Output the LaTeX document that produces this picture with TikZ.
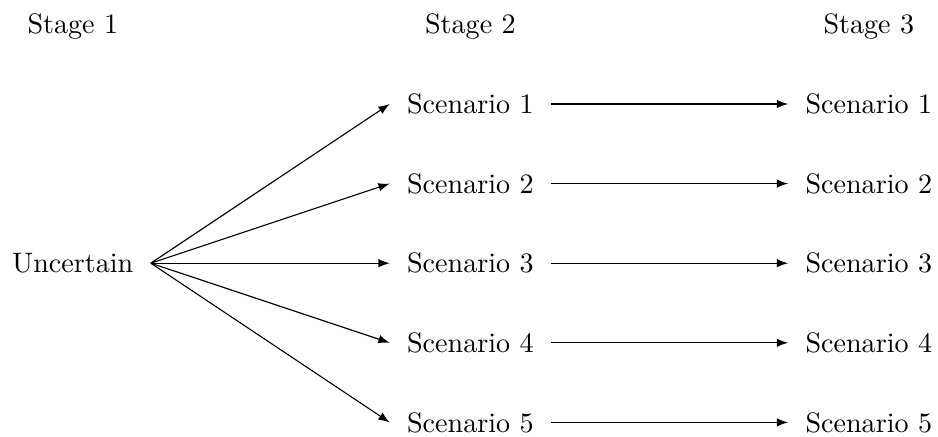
\documentclass[tikz,border=0pt]{standalone}
\usetikzlibrary{arrows}

\begin{document}
\begin{tikzpicture}[>=latex, every node/.style={inner sep=6pt}]
    % Fix the page size
    \useasboundingbox (0,0) rectangle (11.725,-5.4625);

    % Stage labels
    \node (stage1) at (0.91,-0.325) {Stage 1};
    \node (stage2) at (5.88,-0.325) {Stage 2};
    \node (stage3) at (10.86,-0.325) {Stage 3};

    % First stage decision
    \node (unc) at (0.91,-3.29) {Uncertain};

    % Scenarios in stage 2 and stage 3
    \foreach \i/\y in {1/-1.30, 2/-2.295, 3/-3.29, 4/-4.285, 5/-5.28} {
        \node (sa\i) at (5.88,\y) {Scenario \i};
        \node (sb\i) at (10.86,\y) {Scenario \i};
        \draw[->] (unc.east) -- (sa\i.west);
        \draw[->] (sa\i.east) -- (sb\i.west);
    }
\end{tikzpicture}
\end{document}
